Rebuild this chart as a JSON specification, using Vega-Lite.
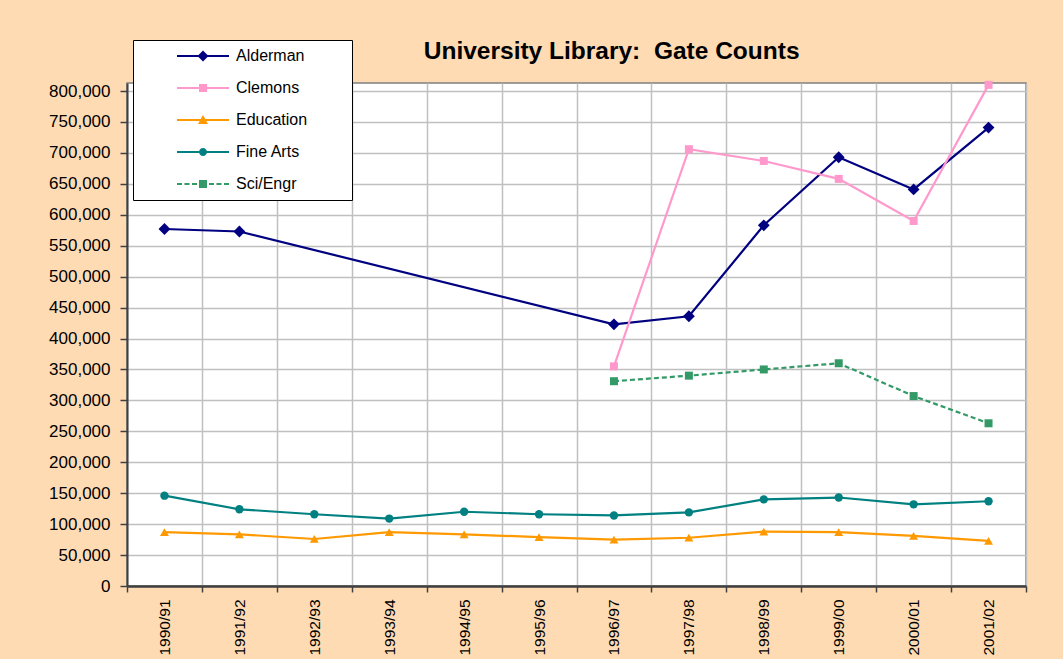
{
  "$schema": "https://vega.github.io/schema/vega-lite/v6.json",
  "autosize": {"type": "pad"},
  "padding": {"left": 47, "top": 39, "right": 36, "bottom": 6},
  "background": "#FFDBB4",
  "bounds": "flush",
  "config": {
    "view": {"fill": "white", "stroke": "#808080", "strokeWidth": 1.5},
    "font": "Liberation Sans"
  },
  "title": {
    "text": "University Library:\u00a0 Gate Counts",
    "font": "Liberation Sans",
    "fontSize": 24.5,
    "fontWeight": "bold",
    "color": "black",
    "anchor": "middle",
    "dx": 74,
    "dy": 35,
    "offset": 10
  },
  "data": {
    "values": [
      {"year": "1990/91", "series": "Alderman", "value": 577000},
      {"year": "1991/92", "series": "Alderman", "value": 573000},
      {"year": "1996/97", "series": "Alderman", "value": 423000},
      {"year": "1997/98", "series": "Alderman", "value": 436000},
      {"year": "1998/99", "series": "Alderman", "value": 583000},
      {"year": "1999/00", "series": "Alderman", "value": 693000},
      {"year": "2000/01", "series": "Alderman", "value": 641000},
      {"year": "2001/02", "series": "Alderman", "value": 741000},
      {"year": "1996/97", "series": "Clemons", "value": 355000},
      {"year": "1997/98", "series": "Clemons", "value": 706000},
      {"year": "1998/99", "series": "Clemons", "value": 687000},
      {"year": "1999/00", "series": "Clemons", "value": 658000},
      {"year": "2000/01", "series": "Clemons", "value": 590000},
      {"year": "2001/02", "series": "Clemons", "value": 810000},
      {"year": "1990/91", "series": "Education", "value": 87000},
      {"year": "1991/92", "series": "Education", "value": 83500},
      {"year": "1992/93", "series": "Education", "value": 76000},
      {"year": "1993/94", "series": "Education", "value": 87000},
      {"year": "1994/95", "series": "Education", "value": 83500},
      {"year": "1995/96", "series": "Education", "value": 79000},
      {"year": "1996/97", "series": "Education", "value": 75000},
      {"year": "1997/98", "series": "Education", "value": 78000},
      {"year": "1998/99", "series": "Education", "value": 88000},
      {"year": "1999/00", "series": "Education", "value": 87000},
      {"year": "2000/01", "series": "Education", "value": 81000},
      {"year": "2001/02", "series": "Education", "value": 73000},
      {"year": "1990/91", "series": "Fine Arts", "value": 146000},
      {"year": "1991/92", "series": "Fine Arts", "value": 124000},
      {"year": "1992/93", "series": "Fine Arts", "value": 116000},
      {"year": "1993/94", "series": "Fine Arts", "value": 109000},
      {"year": "1994/95", "series": "Fine Arts", "value": 120000},
      {"year": "1995/96", "series": "Fine Arts", "value": 116000},
      {"year": "1996/97", "series": "Fine Arts", "value": 114000},
      {"year": "1997/98", "series": "Fine Arts", "value": 119000},
      {"year": "1998/99", "series": "Fine Arts", "value": 140000},
      {"year": "1999/00", "series": "Fine Arts", "value": 143000},
      {"year": "2000/01", "series": "Fine Arts", "value": 132000},
      {"year": "2001/02", "series": "Fine Arts", "value": 137000},
      {"year": "1996/97", "series": "Sci/Engr", "value": 331000},
      {"year": "1997/98", "series": "Sci/Engr", "value": 340000},
      {"year": "1998/99", "series": "Sci/Engr", "value": 350000},
      {"year": "1999/00", "series": "Sci/Engr", "value": 360000},
      {"year": "2000/01", "series": "Sci/Engr", "value": 307000},
      {"year": "2001/02", "series": "Sci/Engr", "value": 263000}
    ]
  },
  "vconcat": [
    {
      "width": 899,
      "height": 503,
      "encoding": {
        "x": {
          "field": "year",
          "type": "ordinal",
          "sort": null,
          "scale": {
            "type": "band",
            "paddingInner": 0,
            "paddingOuter": 0,
            "domain": ["1990/91", "1991/92", "1992/93", "1993/94", "1994/95", "1995/96", "1996/97", "1997/98", "1998/99", "1999/00", "2000/01", "2001/02"]
          },
          "axis": {
            "title": null,
            "labelAngle": -90,
            "labelFont": "Liberation Sans",
            "labelFontSize": 15.5,
            "labelColor": "black",
            "labelPadding": 7,
            "tickBand": "extent",
            "tickSize": 6,
            "tickColor": "#404040",
            "tickWidth": 1.5,
            "domainColor": "#404040",
            "domainWidth": 2.5,
            "grid": true,
            "gridColor": "#C0C0C0",
            "gridWidth": 1.5
          }
        },
        "y": {
          "field": "value",
          "type": "quantitative",
          "scale": {"domain": [0, 813000], "nice": false, "zero": true},
          "axis": {
            "title": null,
            "values": [0, 50000, 100000, 150000, 200000, 250000, 300000, 350000, 400000, 450000, 500000, 550000, 600000, 650000, 700000, 750000, 800000],
            "format": ",d",
            "labelFont": "Liberation Sans",
            "labelFontSize": 17,
            "labelColor": "black",
            "labelPadding": 10,
            "tickSize": 7,
            "tickColor": "#404040",
            "tickWidth": 1.5,
            "domainColor": "#404040",
            "domainWidth": 2,
            "grid": true,
            "gridColor": "#C0C0C0",
            "gridWidth": 1.5
          }
        },
        "color": {
          "field": "series",
          "type": "nominal",
          "scale": {
            "domain": ["Alderman", "Clemons", "Education", "Fine Arts", "Sci/Engr"],
            "range": ["#000080", "#FF99CC", "#FF9900", "#008080", "#339966"]
          },
          "legend": {
            "title": "\u00a0",
            "titleOrient": "right",
            "titlePadding": 37,
            "titleFontSize": 11,
            "orient": "none",
            "legendX": 6,
            "legendY": -43,
            "fillColor": "white",
            "strokeColor": "black",
            "padding": 8,
            "rowPadding": 16,
            "symbolSize": 100,
            "symbolStrokeWidth": 0,
            "symbolOffset": 54,
            "labelOffset": 25,
            "labelFont": "Liberation Sans",
            "labelFontSize": 16,
            "labelColor": "black"
          }
        }
      },
      "layer": [
        {
          "transform": [{"filter": "datum.value < 0"}],
          "mark": {"type": "point", "filled": true, "opacity": 1, "strokeWidth": 0},
          "encoding": {
            "x": null,
            "y": null,
            "shape": {
              "field": "series",
              "type": "nominal",
              "scale": {
                "domain": ["Alderman", "Clemons", "Education", "Fine Arts", "Sci/Engr"],
                "range": [
                  "M-5.2,-0.2H5.2V0.2H-5.2ZM0,-1.1L1.1,0L0,1.1L-1.1,0Z",
                  "M-5.2,-0.2H5.2V0.2H-5.2ZM-0.8,-0.8H0.8V0.8H-0.8Z",
                  "M-5.2,-0.2H5.2V0.2H-5.2ZM0,-1L1,0.8L-1,0.8Z",
                  "M-5.2,-0.2H5.2V0.2H-5.2ZM0.8,0A0.8,0.8 0 1 1 -0.8,0A0.8,0.8 0 1 1 0.8,0Z",
                  "M-5.2,-0.2H-4.2V0.2H-5.2ZM-3.7,-0.2H-2.7V0.2H-3.7ZM-2.2,-0.2H-1.2V0.2H-2.2ZM1.2,-0.2H2.2V0.2H1.2ZM2.7,-0.2H3.7V0.2H2.7ZM4.2,-0.2H5.2V0.2H4.2ZM-0.8,-0.8H0.8V0.8H-0.8Z"
                ]
              },
              "legend": {
                "title": "\u00a0",
                "titleOrient": "right",
                "titlePadding": 37,
                "titleFontSize": 11,
                "orient": "none",
                "legendX": 6,
                "legendY": -43,
                "fillColor": "white",
                "strokeColor": "black",
                "padding": 8,
                "rowPadding": 16,
                "symbolSize": 100,
                "symbolStrokeWidth": 0,
                "symbolOffset": 54,
                "labelOffset": 25,
                "labelFont": "Liberation Sans",
                "labelFontSize": 16,
                "labelColor": "black"
              }
            }
          }
        },
        {
          "transform": [{"filter": "datum.series !== 'Sci/Engr'"}],
          "mark": {"type": "line", "strokeWidth": 2.2}
        },
        {
          "transform": [{"filter": "datum.series === 'Sci/Engr'"}],
          "mark": {"type": "line", "strokeWidth": 2.2, "strokeDash": [5, 3]}
        },
        {
          "transform": [{"filter": "datum.series === 'Alderman'"}],
          "mark": {"type": "point", "filled": true, "opacity": 1, "shape": "diamond", "size": 140}
        },
        {
          "transform": [{"filter": "datum.series === 'Clemons' || datum.series === 'Sci/Engr'"}],
          "mark": {"type": "point", "filled": true, "opacity": 1, "shape": "square", "size": 64}
        },
        {
          "transform": [{"filter": "datum.series === 'Education'"}],
          "mark": {"type": "point", "filled": true, "opacity": 1, "shape": "triangle-up", "size": 80}
        },
        {
          "transform": [{"filter": "datum.series === 'Fine Arts'"}],
          "mark": {"type": "point", "filled": true, "opacity": 1, "shape": "circle", "size": 70}
        }
      ]
    }
  ]
}
